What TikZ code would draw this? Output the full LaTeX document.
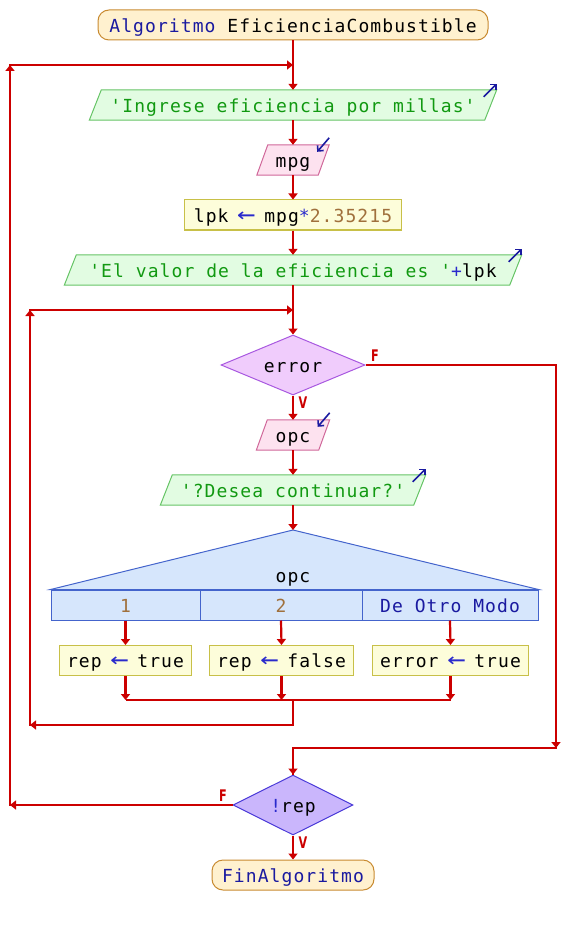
\documentclass[tikz,border=0pt]{standalone}
\usepackage{fontspec}
\setmonofont{DejaVu Sans Mono}[LetterSpace=6]
\setsansfont{DejaVu Sans}
\usetikzlibrary{shapes.geometric,arrows.meta,backgrounds,calc}
\definecolor{flow}{HTML}{CC0000}
\definecolor{kw}{HTML}{1A1AA0}
\definecolor{strc}{HTML}{119911}
\definecolor{numc}{HTML}{A0703C}
\definecolor{opcol}{HTML}{2A2ACC}
\definecolor{termfill}{HTML}{FFF1CF}
\definecolor{termdraw}{HTML}{C88A30}
\definecolor{outfill}{HTML}{E2FCE2}
\definecolor{outdraw}{HTML}{66C466}
\definecolor{infill}{HTML}{FDE2EF}
\definecolor{indraw}{HTML}{D0689A}
\definecolor{asfill}{HTML}{FDFDDA}
\definecolor{asdraw}{HTML}{C8C048}
\definecolor{dafill}{HTML}{F0CCFC}
\definecolor{dadraw}{HTML}{A858E0}
\definecolor{dbfill}{HTML}{CAB6FC}
\definecolor{dbdraw}{HTML}{4A3AD8}
\definecolor{swfill}{HTML}{D6E6FC}
\definecolor{swdraw}{HTML}{4464CC}
\definecolor{iconc}{HTML}{1A1AA0}
\newcommand{\asgarrow}{{\color{opcol}\makebox[11.9pt]{\scalebox{1.7}[1.35]{←}}}}
\tikzset{
  every node/.style={font=\fontsize{18}{20}\selectfont\ttfamily, inner sep=0pt, text height=18pt, text depth=3.4pt},
  term/.style={draw=termdraw, fill=termfill, rounded corners=11pt, minimum height=30pt, line width=1pt},
  plain/.style={rectangle, minimum height=30pt},
  assign/.style={draw=asdraw, fill=asfill, minimum height=30pt, line width=1pt},
  outshape/.style={draw=outdraw, fill=outfill, line width=1pt},
  inshape/.style={draw=indraw, fill=infill, line width=1pt},
  swshape/.style={draw=swdraw, fill=swfill, line width=1pt},
  cell/.style={draw=swdraw, fill=swfill, line width=1pt, minimum height=30pt},
  decA/.style={diamond, aspect=2.4, draw=dadraw, fill=dafill, line width=1pt, minimum height=60pt},
  decB/.style={diamond, aspect=2.4, draw=dbdraw, fill=dbfill, line width=1pt, minimum height=60pt},
  flowline/.style={draw=flow, line width=2.2pt},
  arr/.style={flowline, -{Triangle[width=9pt,length=6pt]}},
  iconarrow/.style={draw=iconc, line width=1.6pt, -{Straight Barb[length=4pt,width=8pt]}},
  lbl/.style={text=flow, font=\fontsize{16}{16}\selectfont\sffamily\bfseries, text height=12pt, text depth=0pt}
}
\begin{document}
\begin{tikzpicture}[x=1pt,y=-1pt]
\useasboundingbox (0,0) rectangle (586,925);
% nodes
\node[term, minimum width=390pt] (start) at (293,25) {{\color{kw}Algoritmo} EficienciaCombustible};
\node[plain, minimum width=407pt, text=strc] (o1) at (293,105) {'Ingrese eficiencia por millas'};
\node[plain, minimum width=72pt] (i1) at (293,160) {mpg};
\node[assign, minimum width=217pt] (a1) at (293,215) {lpk \asgarrow{} mpg{\color{opcol}*}{\color{numc}2.35215}};
\node[plain, minimum width=457pt] (o2) at (293,270) {{\color{strc}'El valor de la eficiencia es '}{\color{opcol}+}lpk};
\node[decA, minimum width=144pt] (d1) at (293,365) {error};
\node[plain, minimum width=73pt] (i2) at (293,435) {opc};
\node[plain, minimum width=265pt, text=strc] (o3) at (293,490) {'?Desea continuar?'};
\coordinate (swtop) at (293,530);
\node[cell, minimum width=149pt] (c1) at (125.5,605) {\color{numc}1};
\node[cell, minimum width=162pt] (c2) at (281,605) {\color{numc}2};
\node[cell, minimum width=176pt] (c3) at (450,605) {\color{kw}De Otro Modo};
\node (swl) at (293,575) {opc};
\node[assign, minimum width=132pt] (b1) at (125.5,660.5) {rep \asgarrow{} true};
\node[assign, minimum width=144pt] (b2) at (281.5,660.5) {rep \asgarrow{} false};
\node[assign, minimum width=156pt] (b3) at (450.5,660.5) {error \asgarrow{} true};
\node[decB, minimum width=120pt] (d2) at (293,805) {{\color{opcol}!}rep};
\node[term, minimum width=162pt] (end) at (293,875) {\color{kw}FinAlgoritmo};
% labels
\node[lbl] (lf1) at (375,355) {\scalebox{0.7}[1]{F}};
\node[lbl] (lv1) at (303,402) {\scalebox{0.7}[1]{V}};
\node[lbl] (lf2) at (223,795) {\scalebox{0.7}[1]{F}};
\node[lbl] (lv2) at (303,842) {\scalebox{0.7}[1]{V}};
% shapes behind
\begin{scope}[on background layer]
\draw[outshape] (o1.south west) -- ($(o1.south east)+(-12,0)$) -- (o1.north east) -- ($(o1.north west)+(12,0)$) -- cycle;
\draw[inshape] (i1.south west) -- ($(i1.south east)+(-11,0)$) -- (i1.north east) -- ($(i1.north west)+(11,0)$) -- cycle;
\draw[outshape] (o2.south west) -- ($(o2.south east)+(-12,0)$) -- (o2.north east) -- ($(o2.north west)+(12,0)$) -- cycle;
\draw[inshape] (i2.south west) -- ($(i2.south east)+(-11,0)$) -- (i2.north east) -- ($(i2.north west)+(11,0)$) -- cycle;
\draw[outshape] (o3.south west) -- ($(o3.south east)+(-12,0)$) -- (o3.north east) -- ($(o3.north west)+(12,0)$) -- cycle;
\draw[swshape] (c1.north west) -- (swtop) -- (c3.north east) -- cycle;
\end{scope}
% icons
\draw[iconarrow] ($(o1.north east)+(-13,7)$) -- ($(o1.north east)+(0,-6)$);
\draw[iconarrow] ($(o2.north east)+(-13,7)$) -- ($(o2.north east)+(0,-6)$);
\draw[iconarrow] ($(o3.north east)+(-13,7)$) -- ($(o3.north east)+(0,-6)$);
\draw[iconarrow] ($(i1.north east)+(0,-7)$) -- ($(i1.north east)+(-12,7)$);
\draw[iconarrow] ($(i2.north east)+(0,-7)$) -- ($(i2.north east)+(-12,7)$);
% corner coordinates
\coordinate (q1) at (10,805);
\coordinate (q2) at (10,65);
\coordinate (q3) at (293,65);
\coordinate (lj) at (293,310);
\coordinate (lt) at (30,310);
\coordinate (lb) at (30,725);
\coordinate (mk) at (293,725);
\coordinate (mj) at (293,700);
\coordinate (m1) at (125.5,700);
\coordinate (m2) at (281.5,700);
\coordinate (m3) at (450.5,700);
\coordinate (r1) at (556,365);
\coordinate (r2) at (556,748);
\coordinate (r3) at (293,748);
% main flow
\draw[arr] (start.south) -- (o1.north);
\draw[arr] (o1.south) -- (i1.north);
\draw[arr] (i1.south) -- (a1.north);
\draw[arr] (a1.south) -- (o2.north);
\draw[arr] (o2.south) -- (d1.north);
\draw[arr] (d1.south) -- (i2.north);
\draw[arr] (i2.south) -- (o3.north);
\draw[arr] (o3.south) -- (swtop);
\draw[arr] (c1.south) -- (b1.north);
\draw[arr] (c2.south) -- (b2.north);
\draw[arr] (c3.south) -- (b3.north);
\draw[arr] (b1.south) -- (m1);
\draw[arr] (b2.south) -- (m2);
\draw[arr] (b3.south) -- (m3);
\draw[flowline] (m1) -- (m3);
\draw[arr] (d2.south) -- (end.north);
% inner loop
\draw[flowline, line join=miter] (mj) -- (mk) -- (lb) -- (lt) -- (lj);
\draw[arr] (mk) -- (lb);
\draw[arr] (lb) -- (lt);
\draw[arr] (lt) -- (lj);
% error false branch
\draw[flowline, line join=miter] (d1.east) -- (r1) -- (r2) -- (r3) -- (d2.north);
\draw[arr] (r1) -- (r2);
\draw[arr] (r3) -- (d2.north);
% outer loop
\draw[flowline, line join=miter] (d2.west) -- (q1) -- (q2) -- (q3);
\draw[arr] (d2.west) -- (q1);
\draw[arr] (q1) -- (q2);
\draw[arr] (q2) -- (q3);
\end{tikzpicture}
\end{document}
